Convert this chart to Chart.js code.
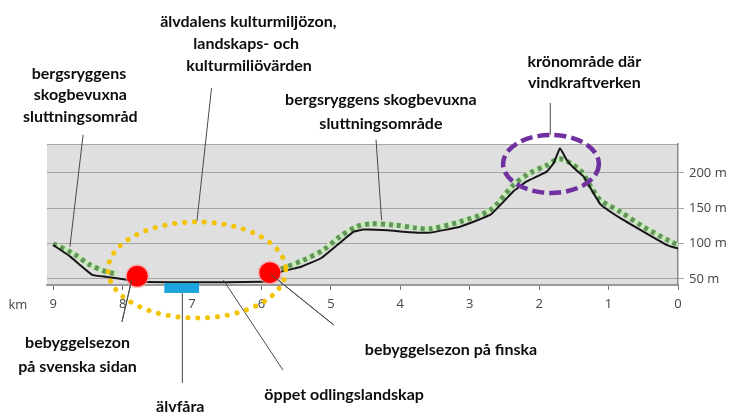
<!DOCTYPE html>
<html>
<head>
<meta charset="utf-8">
<script src="https://cdn.jsdelivr.net/npm/chart.js@4/dist/chart.umd.min.js"></script>
<style>
  html, body { margin: 0; padding: 0; background: #fff; }
  #wrap { width: 734px; height: 412px; position: relative; }
</style>
</head>
<body>
<div id="wrap"><canvas id="c"></canvas></div>
<script>
// ---- Data (km from the right end, elevation in metres) ----
const kmBlack   = [9.0, 8.76, 8.44, 8.23, 7.94, 7.75, 7.3, 7.0, 6.5, 6.0, 5.9, 5.73, 5.44, 5.15, 4.91, 4.67, 4.53, 4.19, 3.86, 3.57, 3.14, 2.70, 2.37, 2.18, 1.89, 1.79, 1.70, 1.60, 1.50, 1.36, 1.12, 0.83, 0.50, 0.16, 0.0];
const elevBlack = [98, 82, 56, 53, 49, 46, 45.5, 45.5, 45.5, 46, 47, 60, 67, 79, 98, 117, 120, 119, 116, 115.6, 124, 141, 174, 188, 202, 214, 235, 218, 207, 195, 156, 136, 117, 98, 93];

const kmGreen   = [9.0, 8.71, 8.47, 8.23, 8.08, 7.0, 5.72, 5.39, 5.11, 4.87, 4.63, 4.43, 4.10, 3.76, 3.57, 3.14, 2.70, 2.37, 2.13, 1.89, 1.70, 1.41, 1.26, 1.12, 0.83, 0.50, 0.11, 0.0];
const elevGreen = [100, 86, 70, 60, 57, null, 64, 77, 91, 110, 124, 128, 126.5, 122, 121, 131, 148, 183, 200, 211, 220, 204, 181, 162, 145, 124, 103, 98];

const kmTicks   = [0, 1, 2, 3, 4, 5, 6, 7, 8, 9];
const elevTicks = [50, 100, 150, 200];

// ---- Annotation anchors in data units (km, m) ----
const labels = [
  { t: "älvdalens kulturmiljözon,", km: 6.19, m: 414 },
  { t: "landskaps- och",            km: 6.22, m: 383 },
  { t: "kulturmiliövärden",         km: 6.18, m: 351.6 },
  { t: "bergsryggens",              km: 8.63, m: 340 },
  { t: "skogbevuxna",               km: 8.61, m: 310.5 },
  { t: "sluttningsområd",           km: 8.61, m: 279 },
  { t: "bergsryggens skogbevuxna",  km: 4.28, m: 303.5 },
  { t: "sluttningsområde",          km: 4.28, m: 269.5 },
  { t: "krönområde där",            km: 1.35, m: 357 },
  { t: "vindkraftverken",           km: 1.35, m: 327.5 },
  { t: "bebyggelsezon",             km: 8.65, m: -40.6 },
  { t: "på svenska sidan",          km: 8.65, m: -74.6 },
  { t: "älvfåra",                   km: 7.17, m: -131 },
  { t: "öppet odlingslandskap",     km: 4.81, m: -114 },
  { t: "bebyggelsezon på finska",   km: 3.27, m: -50.5 }
];
const leaders = [
  [8.57, 254, 8.76, 95.7],
  [6.72, 320, 6.93, 132],
  [4.35, 247, 4.27, 133.5],
  [1.84, 299, 1.84, 254],
  [7.87, 48.6, 8.01, -10.5],
  [7.14, 30, 7.14, -97],
  [6.55, 48.6, 5.69, -79],
  [5.87, 57, 4.96, -15]
];
const yellowZone = { km: 6.93, m: 62.7, rkm: 1.28, rm: 68 };
const purpleZone = { km: 1.83, m: 212.8, rkm: 0.69, rm: 41 };
const settlements = [ { km: 7.79, m: 54 }, { km: 5.88, m: 59 } ];
const riverBed = { km1: 7.40, km2: 6.90, m1: 44.3, m2: 30.2 };
const kmTitle = { t: "km", km: 9.51, m: 13 };

const toPts = (xs, ys) => xs.map((x, i) => ({ x: x, y: ys[i] }));

const decor = {
  id: 'decor',
  beforeDraw(chart) {
    const { ctx, chartArea: a } = chart;
    ctx.save();
    ctx.fillStyle = '#dfdfdf';
    ctx.fillRect(a.left, a.top, a.right - a.left, a.bottom - a.top);
    ctx.strokeStyle = '#a8a8a8';
    ctx.lineWidth = 1;
    ctx.beginPath();
    ctx.moveTo(a.left, a.top + 0.5);
    ctx.lineTo(a.right, a.top + 0.5);
    ctx.stroke();
    ctx.restore();
  },
  afterDraw(chart) {
    const { ctx } = chart;
    const X = chart.scales.x, Y = chart.scales.y;
    const px = k => X.getPixelForValue(k);
    const py = m => Y.getPixelForValue(m);
    ctx.save();

    // leader lines
    ctx.strokeStyle = '#4a4a4a';
    ctx.lineWidth = 1;
    leaders.forEach(l => {
      ctx.beginPath();
      ctx.moveTo(px(l[0]), py(l[1]));
      ctx.lineTo(px(l[2]), py(l[3]));
      ctx.stroke();
    });

    // river bed
    ctx.fillStyle = '#1fa5de';
    ctx.fillRect(px(riverBed.km1), py(riverBed.m1), px(riverBed.km2) - px(riverBed.km1), py(riverBed.m2) - py(riverBed.m1));

    // yellow dotted ellipse
    ctx.strokeStyle = '#f4c300';
    ctx.lineWidth = 5;
    ctx.lineCap = 'round';
    ctx.setLineDash([0.1, 9.8]);
    ctx.beginPath();
    ctx.ellipse(px(yellowZone.km), py(yellowZone.m),
      Math.abs(px(yellowZone.km + yellowZone.rkm) - px(yellowZone.km)),
      Math.abs(py(yellowZone.m + yellowZone.rm) - py(yellowZone.m)), 0, 0, Math.PI * 2);
    ctx.stroke();

    // purple dashed ellipse
    ctx.strokeStyle = '#7030a0';
    ctx.lineWidth = 4.5;
    ctx.lineCap = 'butt';
    ctx.setLineDash([12, 5]);
    ctx.beginPath();
    ctx.ellipse(px(purpleZone.km), py(purpleZone.m),
      Math.abs(px(purpleZone.km + purpleZone.rkm) - px(purpleZone.km)),
      Math.abs(py(purpleZone.m + purpleZone.rm) - py(purpleZone.m)), 0, 0, Math.PI * 2);
    ctx.stroke();
    ctx.setLineDash([]);

    // settlement circles
    settlements.forEach(s => {
      ctx.fillStyle = 'rgba(255,150,150,0.6)';
      ctx.beginPath(); ctx.arc(px(s.km), py(s.m), 12, 0, Math.PI * 2); ctx.fill();
      ctx.fillStyle = '#ff0000';
      ctx.beginPath(); ctx.arc(px(s.km), py(s.m), 10.5, 0, Math.PI * 2); ctx.fill();
    });

    // redraw the two leader lines starting in the circles
    ctx.strokeStyle = '#4a4a4a';
    ctx.lineWidth = 1;
    [leaders[4], leaders[7]].forEach(l => {
      ctx.beginPath();
      ctx.moveTo(px(l[0]), py(l[1]));
      ctx.lineTo(px(l[2]), py(l[3]));
      ctx.stroke();
    });

    // labels
    ctx.fillStyle = '#0d0d0d';
    ctx.font = 'bold 16px Lato, "Open Sans", sans-serif';
    ctx.textAlign = 'center';
    ctx.textBaseline = 'middle';
    labels.forEach(l => ctx.fillText(l.t, px(l.km), py(l.m)));

    ctx.fillStyle = '#444';
    ctx.font = '13px "Open Sans", sans-serif';
    ctx.fillText(kmTitle.t, px(kmTitle.km), py(kmTitle.m));
    ctx.restore();
  }
};

new Chart(document.getElementById('c'), {
  type: 'line',
  data: {
    datasets: [
      { data: toPts(kmBlack, elevBlack), borderColor: '#151515', borderWidth: 2, pointRadius: 0, tension: 0.1, order: 0 },
      { data: toPts(kmGreen, elevGreen), borderColor: '#62955a', borderWidth: 5, borderDash: [4, 4], pointRadius: 0, tension: 0.3, spanGaps: false, order: 1 },
      { data: toPts(kmGreen, elevGreen), borderColor: '#c6ebb6', borderWidth: 5, pointRadius: 0, tension: 0.3, spanGaps: false, order: 2 }
    ]
  },
  options: {
    responsive: true,
    maintainAspectRatio: false,
    animation: false,
    layout: { padding: { top: 144, left: 47, right: 0, bottom: 0 } },
    plugins: { legend: { display: false }, tooltip: { enabled: false } },
    scales: {
      x: {
        type: 'linear', reverse: true, min: 0, max: 9.09, position: 'bottom',
        afterBuildTicks: s => { s.ticks = kmTicks.map(v => ({ value: v })); },
        afterFit: s => { s.height = 127; },
        ticks: { color: '#444', font: { size: 13, family: '"Open Sans", sans-serif' }, padding: 6, maxRotation: 0, callback: v => String(v) },
        grid: { drawOnChartArea: false, drawTicks: true, tickLength: 5, color: '#777' },
        border: { color: '#9a9a9a', width: 2 }
      },
      y: {
        type: 'linear', position: 'right', min: 41.5, max: 241,
        afterBuildTicks: s => { s.ticks = elevTicks.map(v => ({ value: v })); },
        afterFit: s => { s.width = 56; },
        ticks: { color: '#444', font: { size: 13, family: '"Open Sans", sans-serif' }, padding: 5, callback: v => v + ' m' },
        grid: { color: '#a5a5a5', tickLength: 6 },
        border: { color: '#8a8a8a', width: 1.5 }
      }
    }
  },
  plugins: [decor]
});
</script>
</body>
</html>
